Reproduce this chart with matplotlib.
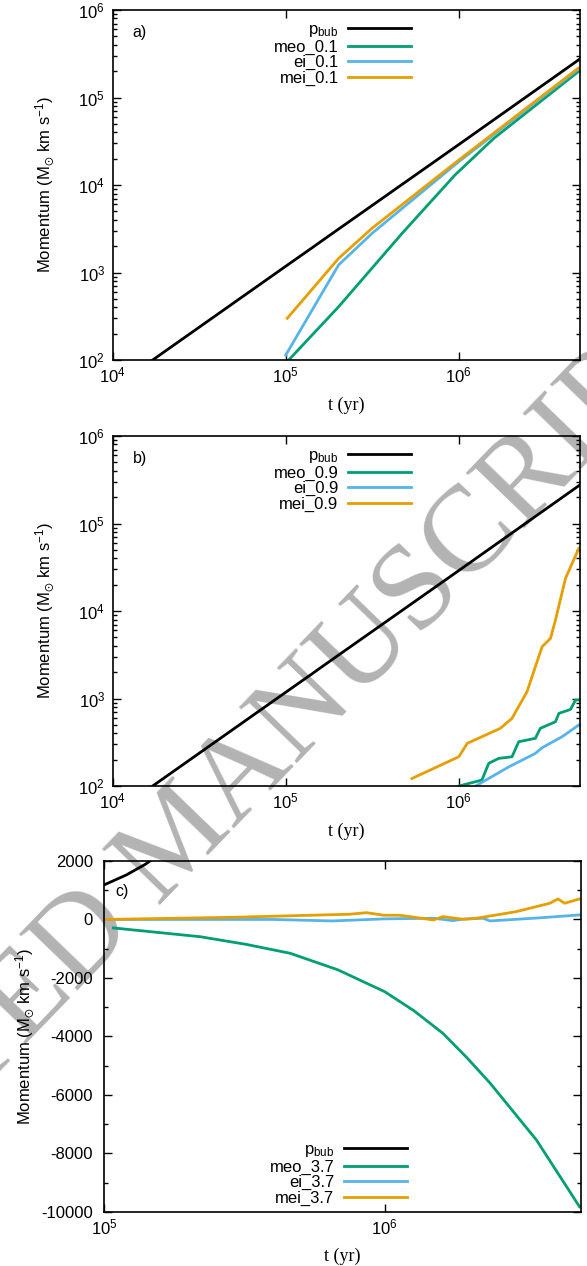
import numpy as np
import matplotlib
matplotlib.use("Agg")
import matplotlib.pyplot as plt
from matplotlib.ticker import LogLocator, LogFormatterMathtext, MultipleLocator, NullLocator, NullFormatter

plt.rcParams['font.family'] = ['Liberation Sans', 'DejaVu Sans']
plt.rcParams['mathtext.default'] = 'regular'
plt.rcParams['axes.unicode_minus'] = False

# colours (gnuplot defaults)
C_BUB, C_MEO, C_EI, C_MEI = "black", "#009e73", "#56b4e9", "#e69f00"

# --- bubble momentum (same in all panels) ---
t_bub = [1.7e4, 1.0e5, 1.2e5, 1.4e5, 1.6e5, 1.0e6, 5.0e6]
p_bub = [100, 1180, 1520, 1880, 2270, 2.9e4, 2.75e5]

# --- panel a: 0.1 ---
t_meo_a = [1.04e5, 2.02e5, 4.7e5, 9.5e5, 1.59e6, 4.9e6]
p_meo_a = [100, 406, 2800, 1.3e4, 3.4e4, 1.97e5]
t_ei_a = [1.0e5, 2.02e5, 3.15e5, 1.0e6, 4.9e6]
p_ei_a = [114, 1220, 2800, 1.85e4, 2.1e5]
t_mei_a = [1.02e5, 2.02e5, 3.15e5, 1.0e6, 4.9e6]
p_mei_a = [300, 1450, 3200, 1.93e4, 2.16e5]

# --- panel b: 0.9 ---
t_meo_b = [1.0e6, 1.36e6, 1.49e6, 1.70e6, 2.03e6, 2.22e6, 2.77e6, 2.96e6, 3.62e6, 3.79e6, 4.42e6, 4.73e6, 4.94e6]
p_meo_b = [100, 117, 182, 207, 216, 321, 351, 457, 543, 677, 751, 962, 962]
t_ei_b = [1.25e6, 1.95e6, 2.77e6, 3.03e6, 3.95e6, 4.94e6]
p_ei_b = [100, 166, 236, 274, 366, 498]
t_mei_b = [5.36e5, 1.0e6, 1.12e6, 1.74e6, 2.03e6, 2.48e6, 3.03e6, 3.39e6, 3.62e6, 4.14e6, 4.94e6]
p_mei_b = [122, 216, 308, 457, 594, 1197, 3910, 4870, 7890, 2.37e4, 5.2e4]

# --- panel c: 3.7 ---
t_meo_c = [1.08e5, 2.2e5, 3.2e5, 4.6e5, 6.8e5, 1.0e6, 1.27e6, 1.61e6, 1.95e6, 2.37e6, 3.47e6, 4.94e6]
p_meo_c = [-290, -590, -850, -1156, -1720, -2470, -3120, -3890, -4700, -5590, -7540, -9820]
t_ei_c = [1.02e5, 4.0e5, 6.5e5, 1.0e6, 1.49e6, 1.75e6, 1.9e6, 2.24e6, 2.37e6, 3.5e6, 4.94e6]
p_ei_c = [0, 0, -51, 20, 41, -40, 10, 41, -51, 50, 154]
t_mei_c = [1.02e5, 2.9e5, 7.5e5, 8.6e5, 9.9e5, 1.13e6, 1.49e6, 1.61e6, 1.90e6, 2.12e6, 2.94e6, 3.87e6, 4.14e6, 4.37e6, 4.94e6]
p_mei_c = [0, 75, 178, 232, 144, 144, -17, 96, 7, 41, 267, 554, 701, 554, 701]

fig = plt.figure(figsize=(5.87, 12.66), dpi=100)
fig.patch.set_facecolor("white")

# watermark behind everything
fig.text(0.344, 0.319, "ACCEPTED MANUSCRIPT", rotation=46, rotation_mode="anchor",
         ha="center", va="baseline", fontsize=88, color="#b3b3b3",
         family=["Liberation Serif", "DejaVu Serif"], zorder=-5)

ax_a = fig.add_axes([0.192, 0.7156, 0.7956, 0.2765])
ax_b = fig.add_axes([0.192, 0.3791, 0.7956, 0.2765])
ax_c = fig.add_axes([0.1772, 0.04265, 0.8126, 0.2773])

ylab = "Momentum (M$_{\\odot}$ km s$^{-1}$)"
lw = 2.0

def style(ax, logy):
    ax.set_facecolor("none")
    for s in ax.spines.values():
        s.set_linewidth(1.2)
    ax.set_xscale("log")
    ax.xaxis.set_major_locator(LogLocator(base=10, numticks=10))
    ax.xaxis.set_minor_locator(NullLocator())
    ax.xaxis.set_major_formatter(LogFormatterMathtext())
    if logy:
        ax.set_yscale("log")
        ax.yaxis.set_major_locator(LogLocator(base=10, numticks=10))
        ax.yaxis.set_minor_locator(LogLocator(base=10, subs=np.arange(2, 10), numticks=20))
        ax.yaxis.set_minor_formatter(NullFormatter())
        ax.yaxis.set_major_formatter(LogFormatterMathtext())
    ax.tick_params(which="both", direction="in", top=True, right=True, width=1.0, labelsize=12)
    ax.tick_params(which="major", length=6)
    ax.tick_params(which="minor", length=3)
    ax.tick_params(axis="x", pad=4)
    ax.tick_params(axis="y", pad=5.5)
    ax.set_xlabel("t (yr)", family=["Liberation Serif", "DejaVu Serif"], fontsize=13)
    ax.set_ylabel(ylab, fontsize=12)

def leg(ax, loc, anchor):
    l = ax.legend(loc=loc, bbox_to_anchor=anchor, frameon=False, markerfirst=False,
                  fontsize=12, handlelength=3.8, handletextpad=0.55, labelspacing=0.02,
                  borderpad=0, borderaxespad=0)
    return l

# panel a
style(ax_a, True)
ax_a.plot(t_bub, p_bub, color=C_BUB, lw=lw, label="p$_{bub}$")
ax_a.plot(t_meo_a, p_meo_a, color=C_MEO, lw=lw, label="meo_0.1")
ax_a.plot(t_ei_a, p_ei_a, color=C_EI, lw=lw, label="ei_0.1")
ax_a.plot(t_mei_a, p_mei_a, color=C_MEI, lw=lw, label="mei_0.1")
ax_a.set_xlim(1e4, 5e6)
ax_a.set_ylim(1e2, 1e6)
ax_a.text(0.043, 0.937, "a)", transform=ax_a.transAxes, fontsize=11.5, va="center")
leg(ax_a, "upper right", (0.639, 0.965))
ax_a.yaxis.set_label_coords(-0.12, 0.5)
ax_a.xaxis.set_label_coords(0.5, -0.106)

# panel b
style(ax_b, True)
ax_b.plot(t_bub, p_bub, color=C_BUB, lw=lw, label="p$_{bub}$")
ax_b.plot(t_meo_b, p_meo_b, color=C_MEO, lw=lw, label="meo_0.9")
ax_b.plot(t_ei_b, p_ei_b, color=C_EI, lw=lw, label="ei_0.9")
ax_b.plot(t_mei_b, p_mei_b, color=C_MEI, lw=lw, label="mei_0.9")
ax_b.set_xlim(1e4, 5e6)
ax_b.set_ylim(1e2, 1e6)
ax_b.text(0.043, 0.937, "b)", transform=ax_b.transAxes, fontsize=11.5, va="center")
leg(ax_b, "upper right", (0.639, 0.965))
ax_b.yaxis.set_label_coords(-0.12, 0.5)
ax_b.xaxis.set_label_coords(0.5, -0.106)

# panel c
style(ax_c, False)
ax_c.plot(t_bub, p_bub, color=C_BUB, lw=lw, label="p$_{bub}$")
ax_c.plot(t_meo_c, p_meo_c, color=C_MEO, lw=lw, label="meo_3.7")
ax_c.plot(t_ei_c, p_ei_c, color=C_EI, lw=lw, label="ei_3.7")
ax_c.plot(t_mei_c, p_mei_c, color=C_MEI, lw=lw, label="mei_3.7")
ax_c.set_xlim(1e5, 5e6)
ax_c.set_ylim(-10000, 2000)
ax_c.yaxis.set_major_locator(MultipleLocator(2000))
ax_c.yaxis.set_minor_locator(MultipleLocator(1000))
ax_c.tick_params(axis="y", pad=8)
ax_c.text(0.023, 0.912, "c)", transform=ax_c.transAxes, fontsize=11.5, va="center")
leg(ax_c, "lower right", (0.635, 0.018))
ax_c.yaxis.set_label_coords(-0.14, 0.5)
ax_c.xaxis.set_label_coords(0.5, -0.103)

fig.savefig("out.png", dpi=100, facecolor="white")
